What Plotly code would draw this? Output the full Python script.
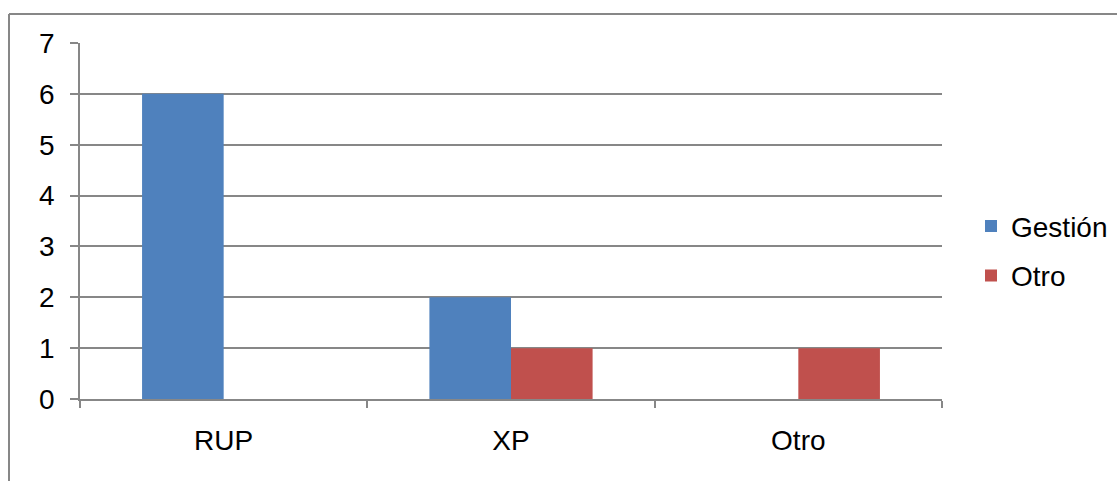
import plotly.graph_objects as go

categories = ["RUP", "XP", "Otro"]
gestion = [6, 2, 0]
otro = [0, 1, 1]
series_names = ["Gestión", "Otro"]
y_ticks = [0, 1, 2, 3, 4, 5, 6, 7]

W, H = 1117, 481
L, R, T, B = 80, 0, 43, 82
plot_right = 942
pw, ph = W - L - R, H - T - B
grid = "#878787"
font = dict(family="Liberation Sans, Arial, sans-serif", size=28, color="#000000")

fig = go.Figure()
fig.add_trace(go.Bar(x=categories, y=gestion, name=series_names[0],
                     marker=dict(color="#4F81BD", line=dict(width=0)),
                     legendgroup="a"))
fig.add_trace(go.Bar(x=categories, y=otro, name=series_names[1],
                     marker=dict(color="#C0504D", line=dict(width=0)),
                     legendgroup="b"))

bx = (9 - L) / pw
by = (H - B - 14) / ph
fig.add_shape(type="line", xref="paper", yref="paper", x0=bx, x1=bx, y0=-1, y1=by,
              line=dict(color=grid, width=2))
fig.add_shape(type="line", xref="paper", yref="paper", x0=bx, x1=1.5, y0=by, y1=by,
              line=dict(color=grid, width=2))

fig.update_layout(
    width=W, height=H,
    margin=dict(l=L, r=R, t=T, b=B, pad=0),
    paper_bgcolor="white", plot_bgcolor="white",
    font=font,
    barmode="group", bargap=0.432, bargroupgap=0,
    showlegend=True,
    legend=dict(x=(971 - L) / pw, xanchor="left", y=0.416, yanchor="middle",
                font=dict(size=28), traceorder="grouped", tracegroupgap=10,
                itemwidth=30, bgcolor="rgba(0,0,0,0)"),
    xaxis=dict(type="category", tickson="boundaries", ticks="outside", ticklen=7,
               tickcolor=grid, tickwidth=1.5, showline=True, linecolor=grid,
               linewidth=1.5, showgrid=False, ticklabelstandoff=16,
               range=[-0.5, 2.5], domain=[0, (plot_right - L) / pw]),
    yaxis=dict(range=[0, 7], tickvals=y_ticks, ticks="outside", ticklen=8,
               tickcolor=grid, tickwidth=1.5, showline=True, linecolor=grid,
               linewidth=1.5, showgrid=True, gridcolor=grid, gridwidth=1.5,
               zeroline=False, ticklabelstandoff=10),
)
fig.write_html("out.html")
